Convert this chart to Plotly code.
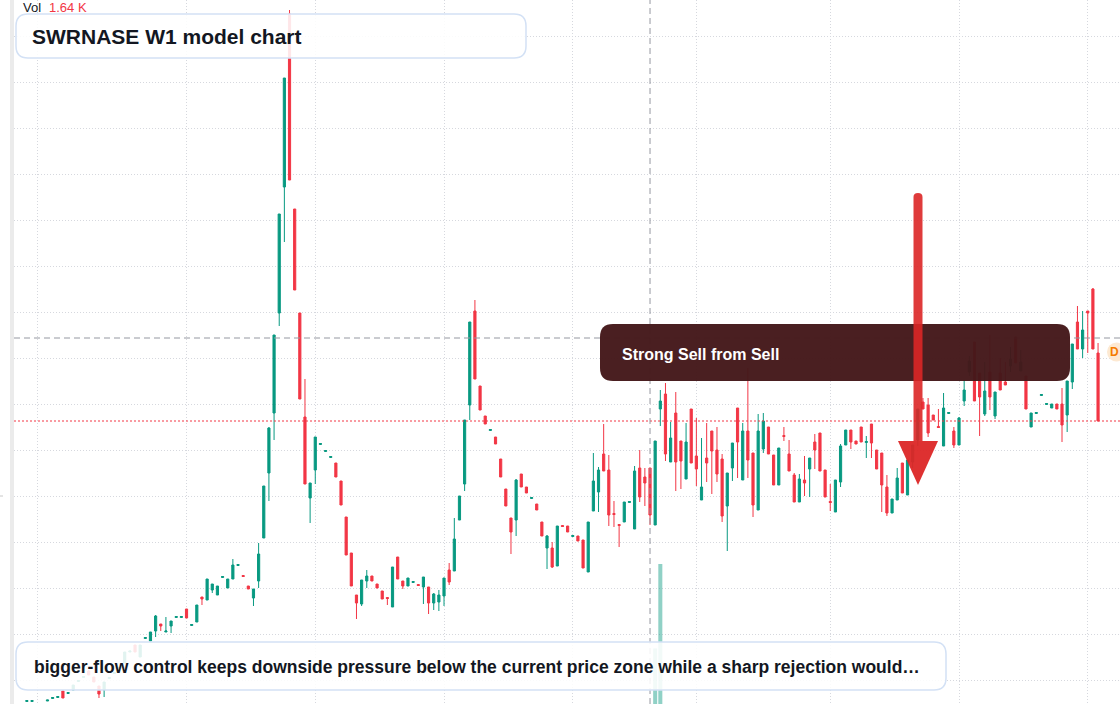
import plotly.graph_objects as go

# ---------------- data (weekly candles, price units) ----------------
opens = [24.5, 24.5, 18, 19, 25, 27.5, 28.5, 35, 32.5, 36,
         44.5, 48.5, 55, 49, 40, 36, 47.5, 52.5, 57.5, 63,
         74, 81, 69, 87.5, 85, 95, 102, 94, 100, 108.5,
         108.5, 117, 100.5, 104, 129, 126, 136, 131, 148.5, 138,
         147, 160.5, 150.5, 140, 128, 145, 188, 253, 313, 413,
         539, 712, 517, 413, 309, 228, 256, 281.5, 274.5, 268.5,
         263, 245, 209, 173, 131, 122, 145, 150, 142, 135,
         128.5, 119, 169, 145, 140, 143.5, 141.5, 139, 139, 123,
         124, 130, 156, 155, 206, 242, 321, 415, 340, 310,
         295.5, 289, 267, 237, 208, 206, 252, 239, 227.5, 222,
         204, 178, 178, 160, 200.5, 200, 189.5, 190, 186, 154,
         215, 234, 272, 256, 212.5, 201.5, 204, 223.5, 197, 258,
         249, 258, 201, 317, 332, 264, 313, 285, 247, 317,
         270, 226, 268, 295, 276, 267, 220, 258, 318, 246,
         295, 273, 216, 277, 299, 271, 241, 290.5, 272, 251,
         224, 246, 257, 284, 293, 256, 224.5, 214, 244, 281,
         296, 285, 299, 283.5, 302, 276, 273, 239, 213, 226,
         263, 231, 264, 286, 324, 321, 311, 299.5, 280, 312.5,
         295, 281, 325, 354, 384, 353, 312, 354, 310, 353,
         344, 360, 389, 355, 350, 299, 312.5, 330.5, 321.5, 318,
         322, 322, 311, 344, 404, 377, 415, 437, 373]
highs = [25.5, 25.5, 19, 20, 26, 28.5, 29.5, 35, 33.5, 41,
         45.5, 49.5, 56, 49, 40, 44, 48.5, 53.5, 58.5, 74,
         75, 81, 81, 88.5, 94, 111, 102, 109, 105, 109.5,
         109.5, 117, 101.5, 121, 129, 147, 142, 140, 149.5, 147,
         167, 161.5, 150.5, 140, 137, 183, 240, 299, 391, 512,
         648, 716, 517, 413, 347, 243, 289, 282.5, 275.5, 269.5,
         263, 245, 209, 173, 131, 146, 156, 150, 142, 135,
         128.5, 159, 169, 145, 148, 144.5, 141.5, 149, 139, 133,
         136, 148, 163, 208, 230, 306, 404, 426, 340, 310,
         296.5, 289, 267, 237, 208, 247, 252, 239, 228.5, 222,
         204, 191, 184, 200, 200.5, 200, 190.5, 190, 186, 204,
         273, 259, 302, 271, 225, 201.5, 224, 224.5, 260, 276,
         258, 258, 285, 336, 343, 304, 334, 285, 303, 317,
         308, 288, 303, 295, 299, 272, 253, 283, 318, 303,
         358, 273, 312, 313, 299, 271, 278, 299, 286, 253,
         252, 270, 268, 292, 293, 256, 242, 246, 282, 296,
         296, 285, 299, 290, 302, 276, 273, 251, 227, 258,
         263, 266, 281, 317, 328, 328, 311, 317, 333, 313.5,
         299, 309, 346, 370, 384, 353, 364, 391, 334, 368,
         364, 379, 389, 376, 350, 313, 313.5, 331.5, 322.5, 322,
         322, 338, 345, 382, 420, 415, 415, 438, 383]
lows = [24.5, 24.5, 18, 19, 25, 27.5, 28.5, 28, 32.5, 36,
        44.5, 48.5, 51, 44, 28, 29, 47.5, 52.5, 57.5, 63,
        74, 74, 69, 87.5, 85, 89, 95, 94, 93, 108.5,
        108.5, 108, 100.5, 104, 121, 126, 133, 131, 148.5, 138,
        147, 160.5, 149.5, 137, 120, 138, 188, 225, 286, 400,
        484, 546, 436, 327, 242, 203, 242, 281.5, 274.5, 268.5,
        249, 221, 171, 140, 107, 120, 138, 145, 138, 127,
        121, 119, 147, 137, 140, 143.5, 140.5, 122, 112, 116,
        115, 120, 141, 155, 206, 235, 306, 347, 316, 302,
        295.5, 282, 249, 220, 172, 190, 239, 233, 227.5, 216,
        190, 157, 158, 160, 199.5, 194, 189.5, 185, 158, 154,
        215, 214, 255, 200, 199, 179, 204, 223.5, 197, 224,
        220, 201, 201, 300, 265, 264, 235, 237, 247, 263,
        240, 226, 244, 232, 244, 204, 175, 245, 248, 246,
        248, 209, 216, 273, 272, 241, 241, 285, 255, 224,
        224, 230, 229, 257, 255, 229, 215, 214, 239, 281,
        277, 282, 284, 268, 268, 257, 214, 210, 213, 226,
        233, 231, 258, 280, 317, 289, 306, 298.5, 280, 312.5,
        278, 281, 320, 350, 325, 290, 310, 316, 307, 336,
        341, 354, 363, 355, 317, 299, 312.5, 330.5, 321.5, 318,
        317, 284, 294, 337, 377, 368, 373, 377, 305]
closes = [25.5, 25.5, 19, 20, 26, 28.5, 29.5, 28, 33.5, 41,
          45.5, 49.5, 51, 44, 32, 44, 48.5, 53.5, 58.5, 74,
          75, 74, 81, 88.5, 94, 110, 100, 95, 105, 109.5,
          109.5, 108, 101.5, 121, 127, 147, 142, 140, 149.5, 147,
          161, 161.5, 149.5, 137, 137, 172, 240, 298, 391, 512,
          648, 546, 436, 327, 242, 243, 289, 282.5, 275.5, 269.5,
          249, 221, 171, 140, 123, 146, 150, 145, 138, 127,
          127.5, 159, 147, 140, 148, 144.5, 140.5, 149, 123, 132,
          131, 148, 144, 187, 230, 306, 404, 347, 316, 302,
          296.5, 282, 249, 220, 194, 246, 239, 233, 228.5, 216,
          190, 190, 159, 200, 199.5, 194, 190.5, 185, 158, 204,
          245, 256, 255, 211, 211.5, 200.5, 224, 224.5, 255, 229,
          243, 211, 285, 325, 272, 288, 264, 265, 284, 263,
          257, 239, 263, 275, 252, 210, 253, 283, 284, 295,
          266, 221, 295, 305, 272, 241, 278, 289.5, 255, 224,
          247, 243, 268, 276, 255, 229, 223.5, 246, 280, 296,
          284, 282, 284, 284.5, 283, 257, 241, 213, 227, 248,
          233, 266, 281, 317, 317, 293, 306, 298.5, 318, 313.5,
          281, 308, 336, 365, 325, 329, 335, 329, 334, 336,
          341, 367, 363, 364, 317, 313, 313.5, 331.5, 322.5, 322,
          317, 301, 345, 382, 377, 396, 413, 377, 305]
volumes = [620, 540, 310, 300, 580, 610, 650, 720, 590, 680,
           640, 700, 760, 690, 880, 820, 700, 660, 690, 900,
           720, 780, 830, 690, 860, 1020, 760, 720, 800, 650,
           640, 830, 700, 980, 760, 1100, 870, 820, 650, 880,
           1040, 700, 720, 760, 900, 1260, 1480, 1560, 1720, 1840,
           1900, 1940, 1620, 1500, 1380, 1120, 1060, 700, 640, 660,
           820, 900, 1060, 1000, 940, 980, 760, 700, 720, 760,
           720, 1080, 900, 760, 700, 620, 600, 880, 940, 820,
           840, 900, 860, 1160, 1100, 1380, 1560, 1400, 980, 860,
           700, 760, 880, 920, 1000, 1120, 820, 720, 640, 700,
           860, 940, 960, 1120, 620, 700, 600, 680, 980, 1160,
           1240, 1100, 1060, 1180, 800, 820, 900, 640, 1260, 1120,
           980, 1640, 5100, 9800, 1480, 1200, 1360, 1100, 1180, 1260,
           1060, 1100, 980, 1040, 1060, 1240, 1260, 1000, 1140, 1200,
           1280, 1160, 1300, 1040, 980, 1020, 1080, 760, 900, 940,
           920, 880, 960, 900, 1060, 980, 880, 1040, 1080, 860,
           820, 700, 860, 760, 900, 860, 1060, 980, 860, 940,
           1000, 1060, 980, 1100, 920, 1040, 760, 800, 1100, 660,
           900, 960, 920, 880, 1200, 1080, 1120, 1220, 1060, 980,
           820, 900, 1000, 880, 1040, 880, 640, 700, 660, 720,
           700, 1040, 1100, 1180, 1260, 1080, 980, 1300, 1380]
grid_x = [2, 31, 56, 81, 106, 130, 156, 181, 206]
last_price = 305
cross_price = 388
cross_index = 121

vol_label = "Vol"
vol_value = "1.64 K"
title_text = "SWRNASE W1 model chart"
signal_text = "Strong Sell from Sell"
note_text = ("bigger-flow control keeps downside pressure below the current "
             "price zone while a sharp rejection would\u2026")
badge_text = "D"

# ---------------- styling ----------------
UP = "#089981"
DOWN = "#F23645"
W, H, L = 1120, 704, 14
FONT = "Liberation Sans, Arial, sans-serif"


def px(x):
    return (x - L) / (W - L)


def py(y):
    return 1 - y / H


def pt(x, y):
    return f"{px(x):.5f},{py(y):.5f}"


def rrect(x0, y0, x1, y1, r):
    return ("M" + pt(x0 + r, y0) + " L" + pt(x1 - r, y0) +
            " Q" + pt(x1, y0) + " " + pt(x1, y0 + r) +
            " L" + pt(x1, y1 - r) +
            " Q" + pt(x1, y1) + " " + pt(x1 - r, y1) +
            " L" + pt(x0 + r, y1) +
            " Q" + pt(x0, y1) + " " + pt(x0, y1 - r) +
            " L" + pt(x0, y0 + r) +
            " Q" + pt(x0, y0) + " " + pt(x0 + r, y0) + " Z")


x_idx = list(range(len(opens)))
vol_colors = ["rgba(8,153,129,0.45)" if c >= o else "rgba(242,54,69,0.45)"
              for o, c in zip(opens, closes)]

fig = go.Figure()
fig.add_trace(go.Candlestick(
    x=x_idx, open=opens, high=highs, low=lows, close=closes,
    increasing=dict(line=dict(color=UP, width=1), fillcolor=UP),
    decreasing=dict(line=dict(color=DOWN, width=1), fillcolor=DOWN),
    whiskerwidth=0, hoverinfo="skip", yaxis="y"))
fig.add_trace(go.Bar(
    x=x_idx, y=volumes, marker=dict(color=vol_colors, line=dict(width=0)),
    width=0.78, yaxis="y2", hoverinfo="skip"))

shapes = []
# left strip
shapes.append(dict(type="rect", xref="paper", yref="paper",
                   x0=px(10), x1=px(14), y0=0, y1=1,
                   fillcolor="#ebebeb", line=dict(width=0), layer="below"))
shapes.append(dict(type="line", xref="paper", yref="paper",
                   x0=px(0), x1=px(3), y0=py(496), y1=py(496),
                   line=dict(color="#c8c8c8", width=1)))
# last price line
shapes.append(dict(type="line", xref="paper", yref="y",
                   x0=0, x1=1, y0=last_price, y1=last_price,
                   line=dict(color=DOWN, width=1, dash="2px,2px")))
# crosshair
shapes.append(dict(type="line", xref="paper", yref="y",
                   x0=0, x1=1, y0=cross_price, y1=cross_price,
                   line=dict(color="#9598a1", width=1, dash="6px,4px")))
shapes.append(dict(type="line", xref="x", yref="paper",
                   x0=cross_index, x1=cross_index, y0=0, y1=1,
                   line=dict(color="#9598a1", width=1, dash="6px,4px")))
# title box
shapes.append(dict(type="path", xref="paper", yref="paper",
                   path=rrect(16, 14, 526, 58, 12),
                   fillcolor="rgba(255,255,255,0.88)",
                   line=dict(color="#d3e1f5", width=1.5)))
# note box
shapes.append(dict(type="path", xref="paper", yref="paper",
                   path=rrect(16, 642, 946, 690, 12),
                   fillcolor="rgba(255,255,255,0.88)",
                   line=dict(color="#d3e1f5", width=1.5)))
# signal box
shapes.append(dict(type="path", xref="paper", yref="paper",
                   path=rrect(600, 324, 1070, 381, 13),
                   fillcolor="#44181a", opacity=0.97,
                   line=dict(width=0)))
# arrow shaft and head
shapes.append(dict(type="path", xref="paper", yref="paper",
                   path=("M" + pt(913.5, 441) + " L" + pt(913.5, 197) +
                         " Q" + pt(913.5, 193) + " " + pt(918, 193) +
                         " Q" + pt(922.5, 193) + " " + pt(922.5, 197) +
                         " L" + pt(922.5, 441) + " Z"),
                   fillcolor="#dc2626", opacity=0.9, line=dict(width=0)))
shapes.append(dict(type="path", xref="paper", yref="paper",
                   path="M" + pt(898, 441) + " L" + pt(938, 441) + " L" + pt(918, 485) + " Z",
                   fillcolor="#dc2626", opacity=0.95, line=dict(width=0)))
# badge
shapes.append(dict(type="circle", xref="paper", yref="paper",
                   x0=px(1107), x1=px(1126), y0=py(361.5), y1=py(342.5),
                   fillcolor="#fde9d2", line=dict(width=0)))

annotations = [
    dict(text=vol_label, x=px(21), y=py(8), xref="paper", yref="paper",
         xanchor="left", yanchor="middle", showarrow=False,
         font=dict(family=FONT, size=13, color="#131722")),
    dict(text=vol_value, x=px(47), y=py(8), xref="paper", yref="paper",
         xanchor="left", yanchor="middle", showarrow=False,
         font=dict(family=FONT, size=13, color=DOWN)),
    dict(text="<b>" + title_text + "</b>", x=px(30), y=py(36.5), xref="paper", yref="paper",
         xanchor="left", yanchor="middle", showarrow=False,
         font=dict(family=FONT, size=21, color="#131722")),
    dict(text="<b>" + signal_text + "</b>", x=px(620), y=py(354), xref="paper", yref="paper",
         xanchor="left", yanchor="middle", showarrow=False,
         font=dict(family=FONT, size=16, color="#ffffff")),
    dict(text="<b>" + note_text + "</b>", x=px(32), y=py(666.5), xref="paper", yref="paper",
         xanchor="left", yanchor="middle", showarrow=False,
         font=dict(family=FONT, size=17.5, color="#131722")),
    dict(text="<b>" + badge_text + "</b>", x=1.0, y=py(352), xref="paper", yref="paper",
         xanchor="right", yanchor="middle", showarrow=False, borderpad=0,
         font=dict(family=FONT, size=12, color="#f57c00")),
]

grid = dict(showgrid=True, gridcolor="#d6d8de", gridwidth=1, griddash="1px,2px",
            zeroline=False, showticklabels=False, ticks="", showline=False,
            fixedrange=True)

fig.update_layout(
    width=W, height=H,
    margin=dict(l=L, r=0, t=0, b=0, pad=0),
    paper_bgcolor="white", plot_bgcolor="white",
    showlegend=False, hovermode=False,
    boxgap=0.4, boxgroupgap=0.3,
    xaxis=dict(range=[-2.5, 212.26], tickmode="array", tickvals=grid_x,
               rangeslider=dict(visible=False), **grid),
    yaxis=dict(range=[22, 726], tick0=0, dtick=46, **grid),
    yaxis2=dict(overlaying="y", range=[2004, 41203], visible=False,
                showgrid=False, zeroline=False, fixedrange=True),
    shapes=shapes, annotations=annotations,
)

fig.write_html("out.html", config=dict(displayModeBar=False))
